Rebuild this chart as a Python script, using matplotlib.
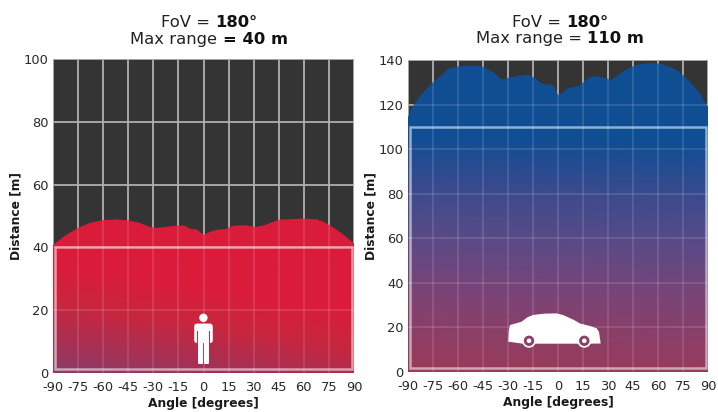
import matplotlib
matplotlib.use("Agg")
import matplotlib.pyplot as plt
import numpy as np
from matplotlib.colors import LinearSegmentedColormap
from matplotlib.patches import Polygon, Circle, FancyBboxPatch, Rectangle
from matplotlib.transforms import Affine2D

plt.rcParams['font.family'] = ['DejaVu Sans']
plt.rcParams['axes.unicode_minus'] = False

W, H = 718, 412

angle_ticks = [-90, -75, -60, -45, -30, -15, 0, 15, 30, 45, 60, 75, 90]

left_angles = [-90, -82, -75, -68, -60, -52, -45, -38, -32, -28, -22, -15, -11, -8, -4, 0,
               4, 8, 13, 17, 21, 26, 31, 36, 41, 45, 52, 60, 68, 72, 75, 80, 85, 90]
left_range = [40.8, 44.0, 46.2, 47.8, 48.7, 48.9, 48.6, 47.8, 46.5, 46.2, 46.6, 47.0, 46.9, 45.9,
              45.7, 44.0, 45.0, 45.6, 45.8, 46.8, 47.0, 47.0, 46.5, 47.0, 48.0, 48.8, 49.0, 49.2,
              48.9, 48.1, 47.2, 45.5, 43.5, 41.2]
right_angles = [-90, -87, -83, -79, -75, -70, -66, -60, -52, -45, -41, -37, -34, -30, -24, -18,
                -14, -11, -8, -5, -2, 0, 3, 6, 9, 13, 16, 20, 24, 28, 32, 36, 41, 46, 51, 56, 62,
                67, 71, 75, 80, 85, 90]
right_range = [114.5, 119.5, 123.5, 127.0, 130.0, 133.0, 136.0, 137.2, 137.4, 137.0, 135.5, 133.5,
               131.2, 132.0, 132.8, 133.4, 132.0, 130.0, 129.0, 129.2, 128.0, 124.2, 125.5, 127.4,
               127.8, 128.5, 130.5, 132.6, 132.6, 132.0, 131.0, 133.2, 135.8, 137.5, 138.3, 138.7,
               138.2, 137.0, 135.5, 133.2, 129.5, 125.0, 119.0]

left_colors = ['#8c3b66', '#ad2e50', '#c8263f', '#da1c3a', '#da1c3a']
left_stops = [0.0, 0.12, 0.22, 0.34, 1.0]
right_colors = ['#9c3a5a', '#8a3f68', '#76457a', '#5a4a86', '#3a4a8e', '#104e94', '#104e94']
right_stops = [0.0, 0.14, 0.29, 0.43, 0.60, 0.76, 1.0]


def px_axes(fig, x0, x1, top, bottom):
    return fig.add_axes([x0 / W, 1 - bottom / H, (x1 - x0) / W, (bottom - top) / H])


def pixel_transform():
    # icon shapes are written in reference pixels, y going down
    return Affine2D().scale(1, -1).translate(0, H)


def mixed_title(fig, renderer, cx, y, plain, bold):
    a = fig.text(0, 1 - y / H, plain, fontsize=11.8, color='#222222', va='baseline')
    b = fig.text(0, 1 - y / H, bold, fontsize=11.8, color='#111111', va='baseline', fontweight='bold')
    wa = a.get_window_extent(renderer).width
    wb = b.get_window_extent(renderer).width
    start = cx - (wa + wb) / 2
    a.set_x(start / W)
    b.set_x((start + wa) / W)


def draw_panel(ax, angles, dist, ymax, yticks, zone, colors, stops, slant):
    ax.set_facecolor('#343434')
    ax.set_xlim(-90, 90)
    ax.set_ylim(0, ymax)
    ax.set_xticks(angle_ticks)
    ax.set_yticks(yticks)
    ax.tick_params(length=0, labelsize=9.4, labelcolor='#2a2a2a')
    ax.tick_params(axis='x', pad=6)
    ax.tick_params(axis='y', pad=3)
    for s in ax.spines.values():
        s.set_visible(False)
    ax.grid(True, color='#b0b0b0', linewidth=1.3, zorder=1)
    ax.set_axisbelow(True)

    # gradient clipped to the range outline
    cmap = LinearSegmentedColormap.from_list('range', list(zip(stops, colors)))
    gx, gy = np.meshgrid(np.linspace(0, 1, 200), np.linspace(0, 1, 200))
    field = np.clip(gy + slant * gx, 0, 1)
    im = ax.imshow(field, origin='lower', extent=(-90, 90, 0, ymax), aspect='auto',
                   cmap=cmap, vmin=0, vmax=1, zorder=2)
    outline = Polygon(list(zip(angles, dist)) + [(90, 0), (-90, 0)], closed=True,
                      transform=ax.transData, facecolor='none', edgecolor='none')
    ax.add_patch(outline)
    im.set_clip_path(outline)

    # grid shows faintly through the filled part
    for v in angle_ticks[1:-1]:
        ln = ax.axvline(v, color='white', alpha=0.13, linewidth=1.3, zorder=3)
        ln.set_clip_path(outline)
    for v in yticks[1:-1]:
        ln = ax.axhline(v, color='white', alpha=0.13, linewidth=1.3, zorder=3)
        ln.set_clip_path(outline)

    # rated range box, inset a little from the axes
    ax.add_patch(Rectangle((-89, 0.012 * ymax), 178, zone - 0.012 * ymax, fill=False,
                           edgecolor='white', alpha=0.55, linewidth=1.8, zorder=4))


fig = plt.figure(figsize=(W / 100, H / 100), dpi=100, facecolor='white')
renderer = fig.canvas.get_renderer()

ax1 = px_axes(fig, 53, 354, 59, 373)
draw_panel(ax1, left_angles, left_range, 100, [0, 20, 40, 60, 80, 100], 40,
           left_colors, left_stops, 0.14)
ax2 = px_axes(fig, 408, 708, 60, 372)
draw_panel(ax2, right_angles, right_range, 140, [0, 20, 40, 60, 80, 100, 120, 140], 110,
           right_colors, right_stops, 0.03)

for ax in (ax1, ax2):
    ax.set_xlabel('Angle [degrees]', fontsize=8.8, fontweight='bold', color='#1a1a1a', labelpad=2)
    ax.set_ylabel('Distance [m]', fontsize=8.8, fontweight='bold', color='#1a1a1a', labelpad=1)

mixed_title(fig, renderer, 209, 27, 'FoV = ', '180°')
mixed_title(fig, renderer, 209, 44, 'Max range ', '= 40 m')
mixed_title(fig, renderer, 560, 27, 'FoV = ', '180°')
mixed_title(fig, renderer, 560, 43, 'Max range = ', '110 m')

# person icon
tr = pixel_transform()
person = [
    Circle((203.4, 317.8), 4.2),
    FancyBboxPatch((194.2, 323.6), 18.6, 19.5, boxstyle='round,pad=0,rounding_size=3.2'),
    FancyBboxPatch((198.0, 338), 5.0, 26, boxstyle='round,pad=0,rounding_size=1.2'),
    FancyBboxPatch((204.0, 338), 5.0, 26, boxstyle='round,pad=0,rounding_size=1.2'),
]
for p in person:
    p.set(facecolor='white', edgecolor='none', transform=tr, zorder=6, clip_on=False)
    fig.add_artist(p)
for gx0 in (197.2, 209.2):
    fig.add_artist(Rectangle((gx0, 331), 0.8, 12.5, facecolor='#b5304f', edgecolor='none',
                             transform=tr, zorder=7))

# car icon
car_body = [(508.3, 341.7), (508.8, 331), (510, 325), (521.7, 321.7), (527, 317.5), (533, 315),
            (545, 313.6), (556.7, 313.4), (563, 315), (574, 320), (580, 323.5), (590, 326),
            (596.7, 328.3), (599, 332), (600.7, 343.5), (590, 343.7), (523, 343.7)]
car = Polygon(car_body, closed=True, facecolor='white', edgecolor='none', transform=tr, zorder=6)
fig.add_artist(car)
for cx in (529, 584.3):
    fig.add_artist(Circle((cx, 340.8), 6.9, facecolor='white', edgecolor='none', transform=tr, zorder=7))
    fig.add_artist(Circle((cx, 340.8), 5.2, facecolor='#8c3f68', edgecolor='none', transform=tr, zorder=8))
    fig.add_artist(Circle((cx, 340.8), 2.3, facecolor='white', edgecolor='none', transform=tr, zorder=9))

fig.savefig('out.png', dpi=100)
